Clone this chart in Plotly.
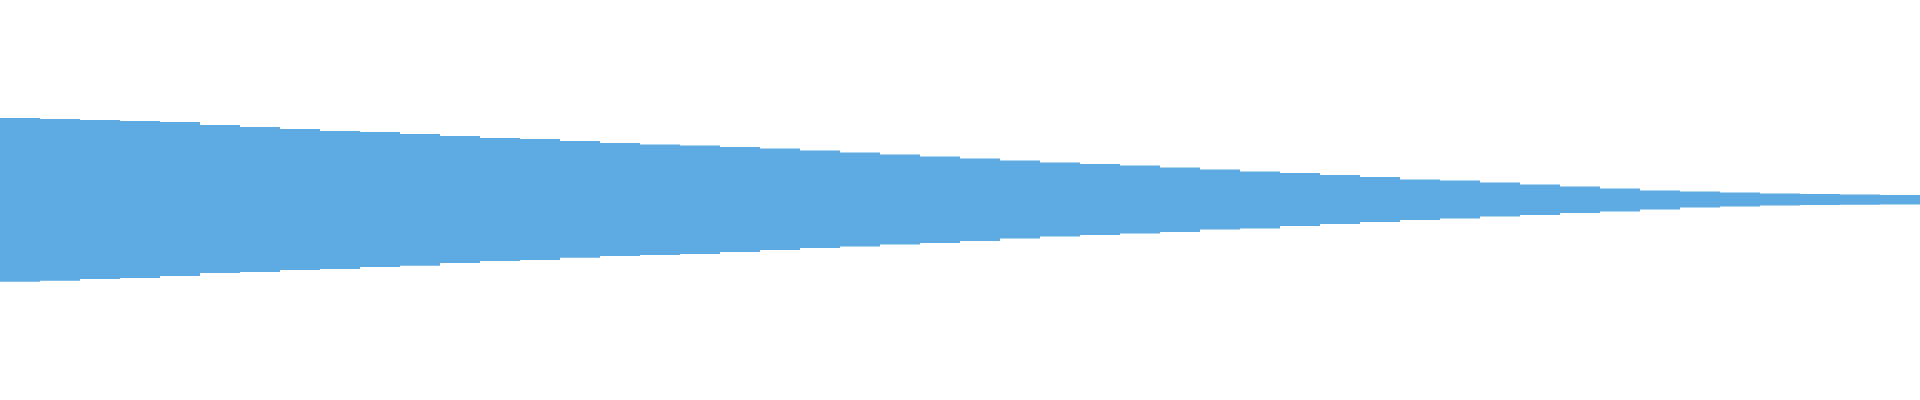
import plotly.graph_objects as go

# Waveform envelope, sampled in 48 equal segments from left to right
segments = list(range(48))

upper_amplitude = [
    0.410, 0.405, 0.400, 0.395, 0.390, 0.375, 0.365, 0.355, 0.345, 0.340,
    0.330, 0.320, 0.310, 0.305, 0.295, 0.285, 0.278, 0.273, 0.265, 0.258,
    0.248, 0.238, 0.228, 0.218, 0.208, 0.198, 0.188, 0.180, 0.173, 0.163,
    0.153, 0.143, 0.135, 0.125, 0.115, 0.103, 0.098, 0.088, 0.078, 0.068,
    0.058, 0.048, 0.043, 0.038, 0.033, 0.030, 0.028, 0.025,
]

lower_amplitude = [
    0.409, 0.404, 0.395, 0.390, 0.380, 0.365, 0.360, 0.350, 0.345, 0.335,
    0.329, 0.315, 0.305, 0.300, 0.289, 0.280, 0.275, 0.270, 0.260, 0.250,
    0.240, 0.233, 0.223, 0.215, 0.205, 0.193, 0.183, 0.175, 0.168, 0.160,
    0.148, 0.143, 0.130, 0.120, 0.110, 0.100, 0.093, 0.083, 0.075, 0.065,
    0.058, 0.048, 0.038, 0.033, 0.028, 0.025, 0.024, 0.022,
]

wave_color = "#5DABE2"

n = len(segments)
# Closed outline: upper edge left->right, lower edge right->left (step shape)
xs = segments + [n] + [n] + [s for s in reversed(segments[1:])] + [0]
ys = (upper_amplitude + [upper_amplitude[-1]]
      + [-lower_amplitude[-1]]
      + [-lower_amplitude[s - 1] for s in reversed(segments[1:])]
      + [-lower_amplitude[0]])

fig = go.Figure()
fig.add_trace(go.Scatter(
    x=xs, y=ys, mode="lines", line=dict(width=0, shape="hv", color=wave_color),
    fill="toself", fillcolor=wave_color, hoverinfo="skip", showlegend=False,
))

fig.update_layout(
    width=1920, height=400,
    margin=dict(l=0, r=0, t=0, b=0),
    paper_bgcolor="white", plot_bgcolor="white",
    xaxis=dict(visible=False, range=[0, n]),
    yaxis=dict(visible=False, range=[-1, 1]),
)

fig.write_html(
    "out.html",
    config={"displayModeBar": False},
    post_script="document.body.style.margin='0';document.body.style.overflow='hidden';",
)
